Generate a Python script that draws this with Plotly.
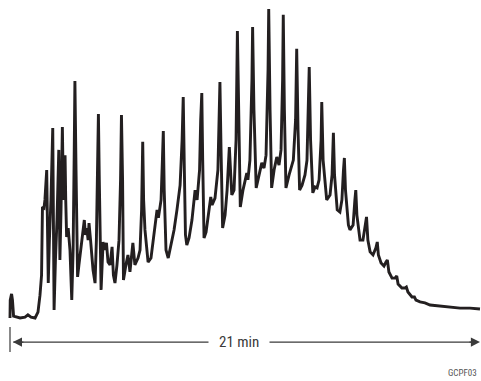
import plotly.graph_objects as go

# Retention time (min) and relative detector signal (%)
time_min = [
    0.00, 0.01, 0.07, 0.11, 0.16, 0.45, 0.67, 0.80, 0.94, 1.12, 1.25, 1.34, 1.41, 1.45, 1.52, 1.56,
    1.64, 1.68, 1.71, 1.76, 1.83, 1.91, 1.93, 1.97, 2.03, 2.10, 2.18, 2.20, 2.23, 2.28, 2.34, 2.39,
    2.46, 2.49, 2.53, 2.60, 2.68, 2.76, 2.82, 2.87, 2.90, 2.95, 3.02, 3.08, 3.15, 3.22, 3.32, 3.37,
    3.43, 3.49, 3.53, 3.60, 3.65, 3.71, 3.80, 3.86, 3.91, 3.95, 3.99, 4.07, 4.16, 4.24, 4.31, 4.38,
    4.47, 4.56, 4.62, 4.69, 4.78, 4.87, 4.94, 4.98, 5.03, 5.07, 5.18, 5.27, 5.36, 5.49, 5.58, 5.72,
    5.81, 5.88, 5.93, 5.97, 6.03, 6.10, 6.17, 6.30, 6.39, 6.48, 6.57, 6.63, 6.75, 6.81, 6.85, 6.89,
    6.97, 7.07, 7.19, 7.33, 7.46, 7.52, 7.60, 7.69, 7.74, 7.79, 7.84, 7.90, 8.00, 8.13, 8.27, 8.36,
    8.47, 8.52, 8.57, 8.61, 8.67, 8.76, 8.85, 8.97, 9.03, 9.16, 9.29, 9.35, 9.38, 9.43, 9.50, 9.61,
    9.70, 9.80, 9.86, 9.91, 10.01, 10.10, 10.16, 10.21, 10.29, 10.41, 10.50, 10.58, 10.63, 10.72,
    10.81, 10.84, 10.90, 11.00, 11.13, 11.25, 11.35, 11.44, 11.53, 11.56, 11.62, 11.69, 11.80,
    11.92, 12.02, 12.11, 12.18, 12.21, 12.26, 12.33, 12.47, 12.58, 12.66, 12.76, 12.81, 12.87,
    12.94, 13.05, 13.18, 13.27, 13.34, 13.37, 13.43, 13.53, 13.63, 13.72, 13.81, 13.90, 13.93,
    13.99, 14.15, 14.30, 14.39, 14.45, 14.50, 14.62, 14.74, 14.83, 14.90, 14.94, 14.99, 15.12,
    15.19, 15.33, 15.41, 15.45, 15.50, 15.64, 15.77, 15.86, 15.93, 15.99, 16.09, 16.22, 16.35,
    16.41, 16.46, 16.58, 16.71, 16.80, 16.86, 16.93, 17.07, 17.20, 17.28, 17.34, 17.51, 17.65,
    17.71, 17.78, 17.96, 18.07, 18.14, 18.32, 18.54, 18.77, 19.21, 19.66, 20.11, 20.55, 21.00,
]
signal_pct = [
    0.0, 5.8, 7.8, 5.8, 0.6, 0.0, 0.3, 1.0, 0.3, 0.0, 1.9, 7.4, 13.9, 35.9, 35.6, 38.2,
    47.9, 28.5, 11.3, 25.2, 38.2, 61.5, 38.2, 2.6, 18.8, 31.7, 54.4, 38.2, 18.8, 35.0, 61.8, 38.2,
    52.7, 38.2, 26.2, 29.1, 22.0, 5.8, 22.0, 54.4, 76.7, 47.9, 13.3, 17.2, 22.0, 26.9, 31.7, 26.9,
    29.1, 25.2, 30.7, 25.2, 19.7, 15.5, 11.3, 25.2, 47.9, 66.0, 44.7, 9.1, 24.6, 22.0, 24.3, 18.1,
    17.2, 23.0, 13.9, 11.3, 17.2, 25.2, 44.7, 65.7, 44.7, 12.3, 17.2, 20.4, 14.9, 24.3, 17.2, 19.4,
    22.0, 35.0, 57.0, 38.2, 28.5, 22.0, 18.1, 19.4, 25.2, 31.1, 35.0, 32.4, 38.2, 51.1, 60.5, 41.4,
    22.0, 19.4, 23.6, 28.5, 35.0, 39.2, 43.0, 57.6, 71.5, 47.9, 26.9, 23.6, 25.9, 31.7, 41.4, 38.2,
    47.9, 64.1, 72.8, 51.1, 25.9, 27.8, 33.3, 39.2, 36.6, 38.8, 47.9, 64.1, 76.4, 54.4, 29.1, 33.3,
    41.4, 55.3, 44.7, 39.8, 41.4, 57.6, 92.9, 64.1, 35.9, 41.4, 44.7, 46.9, 44.7, 51.1,
    77.0, 94.2, 67.3, 42.1, 46.3, 50.2, 48.5, 52.7, 80.3, 100.0, 67.3, 42.1, 47.9,
    52.1, 49.5, 54.4, 77.0, 98.1, 67.3, 42.1, 46.3, 49.5, 51.1, 64.1, 87.1, 60.8,
    41.4, 43.0, 46.3, 51.1, 67.3, 81.2, 57.6, 40.5, 42.4, 42.1, 44.7, 57.6, 69.9,
    51.1, 38.2, 39.8, 46.3, 59.9, 46.3, 35.0, 34.3, 38.2, 47.9, 51.8, 41.4, 30.1,
    28.5, 30.1, 38.2, 41.4, 33.3, 25.2, 25.2, 29.1, 32.7, 25.2, 21.4, 20.4, 22.7,
    24.6, 20.4, 17.8, 16.8, 18.1, 18.8, 14.9, 12.9, 12.9, 13.6, 11.0, 9.7, 9.7,
    10.0, 8.4, 6.8, 6.8, 5.8, 5.2, 4.9, 4.2, 3.9, 3.6, 3.2, 3.2, 2.9,
]

run_length_min = 21
run_label = "21 min"
figure_code = "GCPF03"

INK = "#231f20"
GREY = "#3a3a3a"
FONT = "Liberation Sans Narrow, Roboto Condensed, Arial Narrow, Roboto, sans-serif"

fig = go.Figure()
fig.add_trace(go.Scatter(
    x=time_min, y=signal_pct, mode="lines",
    line=dict(color=INK, width=2.9), hoverinfo="skip", showlegend=False,
))

arrow_y = -7.8
# time span bar
fig.add_shape(type="line", x0=0, x1=0, y0=-2.9, y1=-11.0,
              line=dict(color=GREY, width=1.2))
fig.add_shape(type="line", x0=0.15, x1=run_length_min - 0.1, y0=arrow_y, y1=arrow_y,
              line=dict(color=GREY, width=1.3))
fig.add_annotation(x=run_length_min, y=arrow_y, ax=-12, ay=0, text="", showarrow=True,
                   arrowhead=2, arrowsize=1.4, arrowwidth=1.3, arrowcolor=GREY)
fig.add_annotation(x=0.13, y=arrow_y, ax=12, ay=0, text="", showarrow=True,
                   arrowhead=2, arrowsize=1.4, arrowwidth=1.3, arrowcolor=GREY)
fig.add_annotation(x=10.23, y=arrow_y, text=run_label, showarrow=False,
                   bgcolor="white", borderpad=10,
                   font=dict(family=FONT, size=15, color=GREY))
fig.add_annotation(xref="paper", yref="paper", x=479 / 481, y=1 - 373 / 381,
                   xanchor="right", yanchor="middle", text=figure_code, showarrow=False,
                   font=dict(family=FONT, size=9, color="#555555"))

fig.update_layout(
    width=481, height=381,
    margin=dict(l=0, r=0, t=0, b=0),
    paper_bgcolor="white", plot_bgcolor="white",
    xaxis=dict(range=[-0.447, 21.045], visible=False, fixedrange=True),
    yaxis=dict(range=[-20.39, 102.91], visible=False, fixedrange=True),
)

fig.write_html(
    "out.html",
    config={"displayModeBar": False},
    post_script="document.body.style.margin='0';document.body.style.overflow='hidden';",
)
